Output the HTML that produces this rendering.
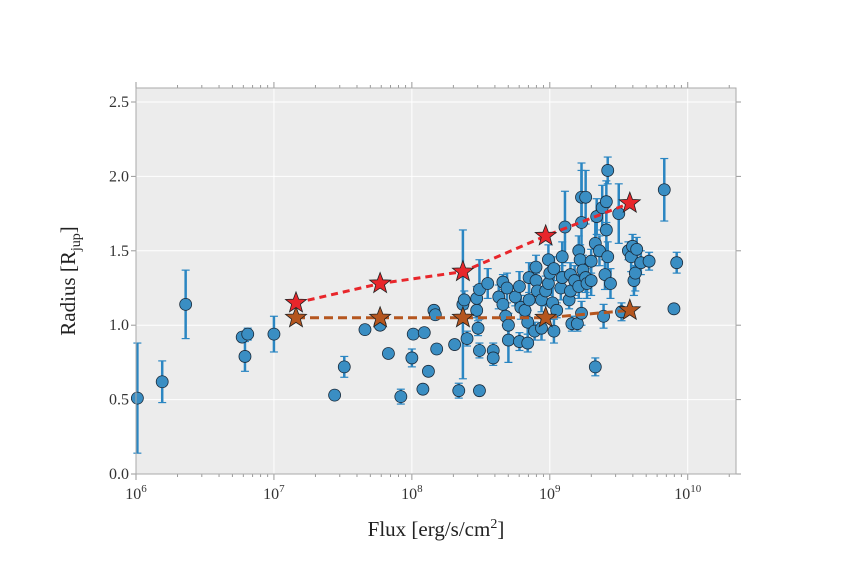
<!DOCTYPE html>
<html><head><meta charset="utf-8"><style>
body{margin:0;background:#fff;}
svg{display:block;font-family:"Liberation Serif",serif;}
</style></head><body>
<svg id="chart" width="850" height="574">
</svg>
<script>
const logFlux=[6.01,6.19,6.36,6.77,6.81,6.79,7.00,7.44,7.51,7.66,7.77,7.83,7.92,8.00,8.01,8.09,8.08,8.12,8.16,8.17,8.18,8.31,8.34,8.37,8.38,8.40,8.47,8.47,8.49,8.48,8.49,8.49,8.55,8.59,8.59,8.63,8.66,8.66,8.69,8.68,8.70,8.70,8.75,8.78,8.79,8.78,8.82,8.84,8.85,8.85,8.84,8.90,8.90,8.91,8.89,8.94,8.94,8.97,8.99,8.99,9.00,9.02,9.03,9.03,9.05,9.08,9.09,9.09,9.11,9.14,9.15,9.16,9.15,9.18,9.20,9.21,9.21,9.22,9.23,9.23,9.26,9.23,9.24,9.26,9.27,9.30,9.30,9.33,9.33,9.34,9.36,9.38,9.39,9.40,9.41,9.41,9.42,9.42,9.44,9.50,9.52,9.57,9.59,9.60,9.61,9.62,9.63,9.66,9.72,9.83,9.90,9.92];
const radius=[0.51,0.62,1.14,0.92,0.94,0.79,0.94,0.53,0.72,0.97,1.00,0.81,0.52,0.78,0.94,0.95,0.57,0.69,1.10,1.07,0.84,0.87,0.56,1.14,1.17,0.91,1.10,1.18,1.24,0.98,0.83,0.56,1.28,0.83,0.78,1.19,1.29,1.14,1.25,1.06,1.00,0.90,1.19,1.26,1.12,0.89,1.10,1.02,1.17,1.32,0.88,1.30,1.39,1.23,0.96,1.17,0.98,1.23,1.44,1.28,1.35,1.15,0.96,1.38,1.10,1.25,1.46,1.32,1.66,1.17,1.23,1.01,1.34,1.30,1.01,1.26,1.50,1.44,1.69,1.86,1.86,1.08,1.37,1.32,1.28,1.43,1.30,1.55,0.72,1.73,1.50,1.79,1.06,1.34,1.64,1.83,2.04,1.46,1.28,1.75,1.09,1.50,1.46,1.53,1.30,1.35,1.51,1.42,1.43,1.91,1.11,1.42];
const radiusErr=[0.37,0.14,0.23,0.03,0.04,0.10,0.12,0.03,0.07,0.03,0.03,0.02,0.05,0.06,0.03,0.03,0.02,0.03,0.02,0.03,0.03,0.02,0.05,0.50,0.06,0.05,0.05,0.08,0.20,0.05,0.05,0.03,0.10,0.05,0.05,0.08,0.05,0.08,0.10,0.06,0.08,0.15,0.06,0.10,0.08,0.06,0.05,0.08,0.12,0.10,0.06,0.05,0.08,0.08,0.06,0.08,0.08,0.10,0.10,0.08,0.08,0.10,0.08,0.08,0.05,0.08,0.10,0.08,0.24,0.06,0.08,0.05,0.08,0.10,0.05,0.08,0.10,0.10,0.40,0.18,0.18,0.08,0.10,0.10,0.10,0.08,0.10,0.15,0.06,0.12,0.10,0.15,0.08,0.10,0.15,0.14,0.09,0.10,0.10,0.20,0.06,0.06,0.10,0.08,0.10,0.12,0.08,0.08,0.06,0.21,0.02,0.07];
const starFlux=[7.16,7.77,8.37,8.97,9.58];
const starRed=[1.15,1.28,1.36,1.60,1.82];
const starBrown=[1.05,1.05,1.05,1.05,1.10];
const yTicks=[0,0.5,1.0,1.5,2.0,2.5];
const xTickExp=[6,7,8,9,10];

const NS="http://www.w3.org/2000/svg";
const svg=document.getElementById('chart');
const L=136,R=736,T=88,B=474;
const xMin=6,xMax=10.35,yMin=0,yMax=2.594;
const xs=v=>L+(v-xMin)/(xMax-xMin)*(R-L);
const ys=v=>B-(v-yMin)/(yMax-yMin)*(B-T);
function mk(tag,attrs,parent){const e=document.createElementNS(NS,tag);for(const k in attrs)e.setAttribute(k,attrs[k]);(parent||svg).appendChild(e);return e;}

const bg=mk('rect',{x:L,y:T,width:R-L,height:B-T,fill:'#ececec'});


const grid=mk('g',{stroke:'#fff','stroke-width':1});


yTicks.forEach(t=>mk('line',{x1:L,x2:R,y1:ys(t),y2:ys(t)},grid));
xTickExp.forEach(t=>mk('line',{x1:xs(t),x2:xs(t),y1:T,y2:B},grid));

const ticks=mk('g',{stroke:'#999','stroke-width':1});


yTicks.forEach(t=>{mk('line',{x1:L-5,x2:L,y1:ys(t),y2:ys(t)},ticks);mk('line',{x1:R,x2:R+5,y1:ys(t),y2:ys(t)},ticks);});
for(let d=6;d<=10;d++){for(let m=1;m<=9;m++){const v=d+Math.log10(m);if(v>xMax)break;const len=m===1?6:3;
mk('line',{x1:xs(v),x2:xs(v),y1:B,y2:B+len},ticks);mk('line',{x1:xs(v),x2:xs(v),y1:T-len,y2:T},ticks);}}

const ylab=mk('g',{'font-size':16,fill:'#333','text-anchor':'end'});


yTicks.forEach(t=>{const e=mk('text',{x:L-7,y:ys(t)+5},ylab);e.textContent=t.toFixed(1);});
const xlab=mk('g',{'font-size':16,fill:'#333','text-anchor':'middle'});


xTickExp.forEach(t=>{const e=mk('text',{x:xs(t),y:B+25},xlab);const a=mk('tspan',{},e);a.textContent='10';const s=mk('tspan',{dy:-7,'font-size':11},e);s.textContent=String(t);});

const errs=mk('g',{stroke:'#2b86c2','stroke-width':2.5});


const pts=mk('g',{fill:'#3a8ec3',stroke:'#1a2a3a','stroke-width':0.8});


logFlux.forEach((f,i)=>{const x=xs(f),y1=ys(radius[i]-radiusErr[i]),y2=ys(radius[i]+radiusErr[i]);
mk('line',{x1:x,x2:x,y1:y1,y2:y2},errs);mk('line',{x1:x-4,x2:x+4,y1:y1,y2:y1,'stroke-width':1.2},errs);mk('line',{x1:x-4,x2:x+4,y1:y2,y2:y2,'stroke-width':1.2},errs);
const c=mk('circle',{cx:x,cy:ys(radius[i]),r:6},pts);

});

function starPath(cx,cy,r){let p='';for(let k=0;k<10;k++){const a=-Math.PI/2+k*Math.PI/5;const rr=k%2?r*0.42:r;p+=(k?'L':'M')+(cx+rr*Math.cos(a)).toFixed(1)+','+(cy+rr*Math.sin(a)).toFixed(1);}return p+'Z';}
function series(vals,color,name,dash){const g=mk('g',{});


mk('polyline',{points:starFlux.map((f,i)=>xs(f)+','+ys(vals[i])).join(' '),fill:'none',stroke:color,'stroke-width':3,'stroke-dasharray':dash},g);
starFlux.forEach((f,i)=>{const s=mk('path',{d:starPath(xs(f),ys(vals[i]),11),fill:color,stroke:'#222','stroke-width':0.8},g);

});}
series(starBrown,'#b5561f','brown-star-series','9,5');
series(starRed,'#e8262b','red-star-series','7,5');

const frame=mk('rect',{x:L,y:T,width:R-L,height:B-T,fill:'none',stroke:'#aaa','stroke-width':1});



const xt=mk('text',{x:(L+R)/2,y:536,'font-size':21,fill:'#222','text-anchor':'middle'});


xt.innerHTML='Flux [erg/s/cm<tspan dy="-8" font-size="14">2</tspan><tspan dy="8">]</tspan>';
const yt=mk('text',{x:0,y:0,'font-size':21,fill:'#222','text-anchor':'middle',transform:'translate(75,281) rotate(-90)'});


yt.innerHTML='Radius [R<tspan dy="5" font-size="14">jup</tspan><tspan dy="-5">]</tspan>';
</script>
</body></html>
